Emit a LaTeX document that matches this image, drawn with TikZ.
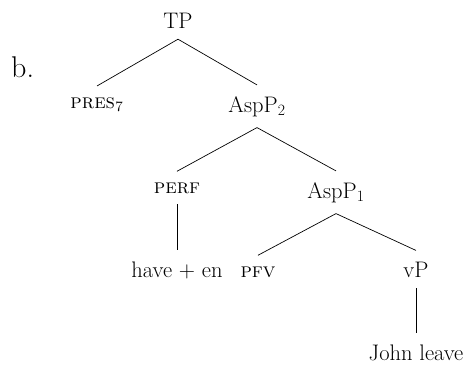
\documentclass[tikz,border=0pt]{standalone}
\begin{document}
\begin{tikzpicture}[x=1bp,y=-1bp,
  lbl/.style={font=\fontsize{22.5bp}{27bp}\selectfont, anchor=base, inner xsep=2bp, inner ysep=11bp},
  sclbl/.style={lbl, font=\fontsize{20.5bp}{24bp}\selectfont\scshape},
  branch/.style={line width=0.7pt}]
  \useasboundingbox (0,0) rectangle (467,366);
  % example label
  \node[lbl, anchor=base west, inner sep=0pt, font=\fontsize{30bp}{36bp}\selectfont] (ex) at (11,77) {b.};
  % tree nodes
  \node[lbl]   (tp)    at (178,28)  {TP};
  \node[sclbl] (pres)  at (97,108)  {pres\textsubscript{7}};
  \node[lbl]   (asp2)  at (257,112) {AspP\textsubscript{2}};
  \node[sclbl] (perf)  at (177,193) {perf};
  \node[lbl]   (asp1)  at (336,198) {AspP\textsubscript{1}};
  \node[lbl]   (have)  at (177,277) {have + en};
  \node[sclbl] (pfv)   at (258,277) {pfv};
  \node[lbl]   (vp)    at (416,277) {vP};
  \node[lbl]   (john)  at (416,360) {John leave};
  % branches
  \draw[branch] (tp.south) -- (pres.north);
  \draw[branch] (tp.south) -- (asp2.north);
  \draw[branch] (asp2.south) -- (perf.north);
  \draw[branch] (asp2.south) -- (asp1.north);
  \draw[branch] (perf.south) -- (have.north);
  \draw[branch] (asp1.south) -- (pfv.north);
  \draw[branch] (asp1.south) -- (vp.north);
  \draw[branch] (vp.south) -- (john.north);
\end{tikzpicture}
\end{document}
